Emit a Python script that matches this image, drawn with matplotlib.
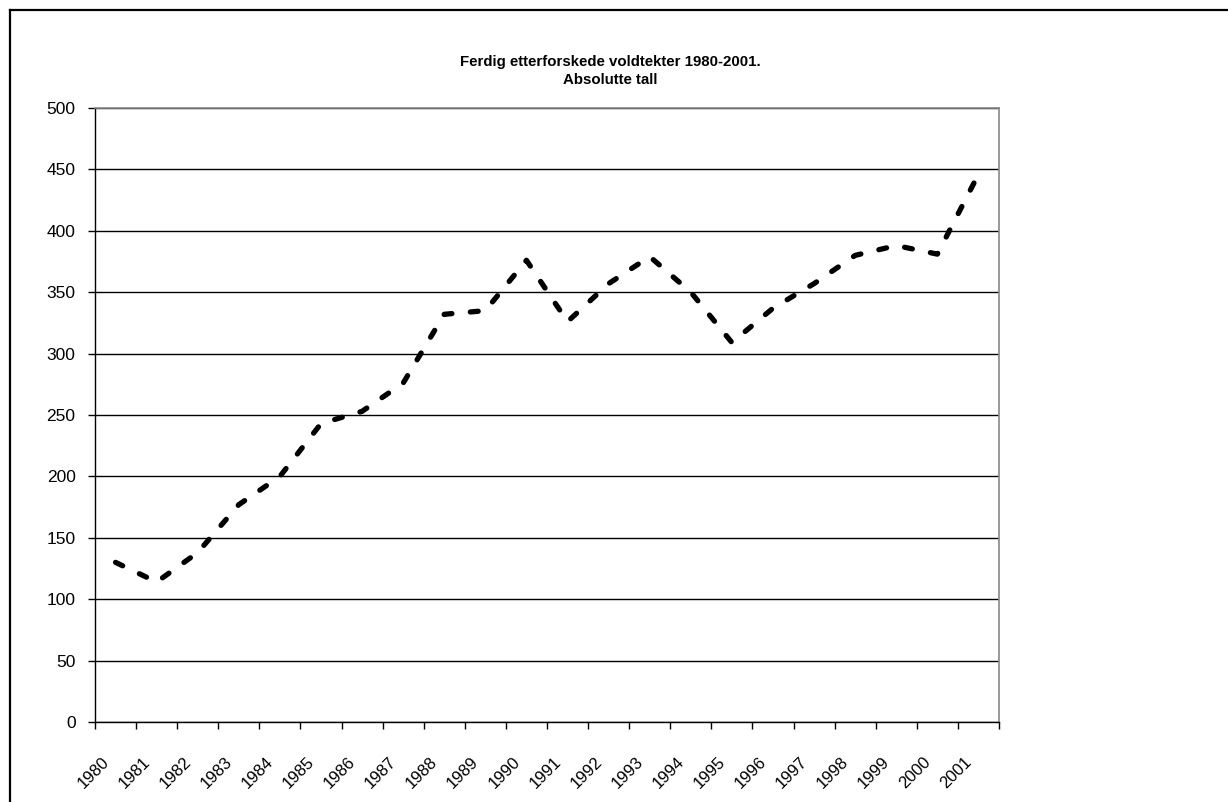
import matplotlib
matplotlib.use("Agg")
import matplotlib.pyplot as plt
from matplotlib.lines import Line2D

# Data
years = ['1980', '1981', '1982', '1983', '1984', '1985', '1986', '1987', '1988', '1989', '1990',
         '1991', '1992', '1993', '1994', '1995', '1996', '1997', '1998', '1999', '2000', '2001']
values = [130, 114, 138, 177, 200, 243, 253, 276, 332, 335, 376,
          326, 357, 379, 350, 309, 337, 357, 380, 388, 381, 446]
y_ticks = [0, 50, 100, 150, 200, 250, 300, 350, 400, 450, 500]

plt.rcParams['font.family'] = ['Liberation Sans', 'DejaVu Sans']

fig = plt.figure(figsize=(12.28, 8.02), dpi=100)
ax = fig.add_axes([95 / 1228, 80 / 802, 904 / 1228, 614 / 802])

x = list(range(len(years)))
line, = ax.plot(x, values, color='black', lw=3.8, linestyle='--', dash_capstyle='round')
line.set_dashes((1.5, 3.5))

ax.set_xlim(-0.5, len(years) - 0.5)
ax.set_ylim(0, 500)

# gridlines
ax.set_yticks(y_ticks)
ax.yaxis.grid(True, color='black', lw=1)
ax.set_axisbelow(True)
ax.tick_params(axis='y', direction='out', length=5, width=1, labelsize=12.5, pad=9)

# ticks between categories, labels near the category centres
ax.set_xticks([i - 0.5 for i in range(len(years) + 1)])
ax.set_xticklabels([])
ax.tick_params(axis='x', which='major', direction='out', length=5, width=1)
ax.set_xticks([i - 0.22 for i in x], minor=True)
ax.set_xticklabels(years, minor=True, rotation=45, ha='right', va='center',
                   rotation_mode='anchor', fontsize=12)
ax.tick_params(axis='x', which='minor', length=0, pad=27)

for s in ['left', 'bottom']:
    ax.spines[s].set_color('black')
    ax.spines[s].set_linewidth(1)
for s in ['top', 'right']:
    ax.spines[s].set_color('#888888')
    ax.spines[s].set_linewidth(1.2)

fig.text(610 / 1228, 1 - 71 / 802, 'Ferdig etterforskede voldtekter 1980-2001.\nAbsolutte tall',
         ha='center', va='center', fontsize=10.8, fontweight='bold', linespacing=1.3)

# chart border (only top and left visible)
fig.add_artist(Line2D([9.5 / 1228, 1], [1 - 9.5 / 802] * 2, color='black', lw=1.6,
                      transform=fig.transFigure))
fig.add_artist(Line2D([9.5 / 1228] * 2, [0, 1 - 9.5 / 802], color='black', lw=1.6,
                      transform=fig.transFigure))

fig.savefig('out.png', dpi=100)
